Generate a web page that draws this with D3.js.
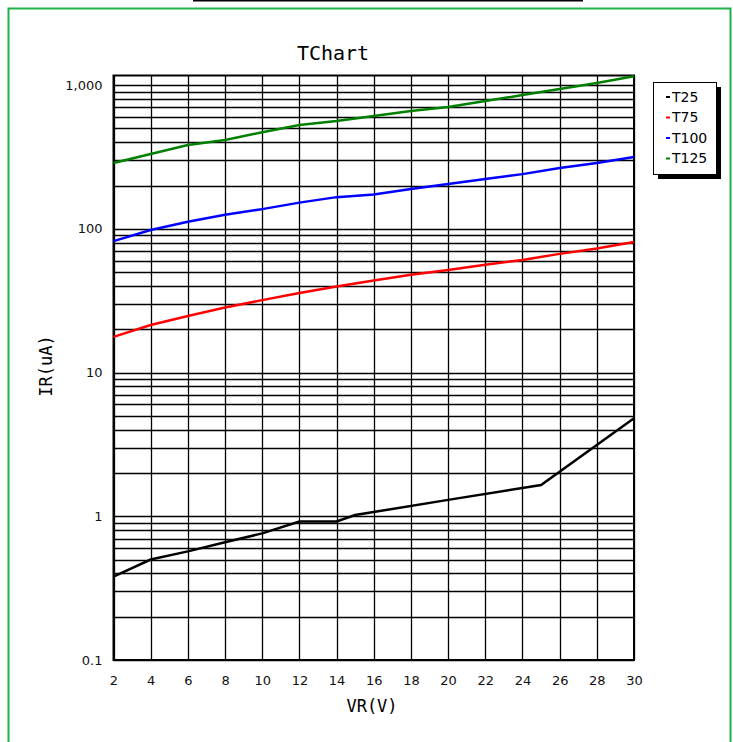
<!DOCTYPE html>
<html>
<head>
<meta charset="utf-8">
<script src="https://cdn.jsdelivr.net/npm/d3@7"></script>
<style>
  body { margin: 0; background: #fff; }
  svg { display: block; }
</style>
</head>
<body>
<div id="chart"></div>
<script>
  // chart data
  const vr = [2, 4, 6, 8, 10, 12, 14, 16, 18, 20, 22, 24, 26, 28, 30];
  const t25x = [2, 4, 6, 8, 10, 12, 14, 15, 20, 25, 30];
  const t25 = [0.38, 0.50, 0.57, 0.66, 0.76, 0.92, 0.92, 1.02, 1.3, 1.65, 4.8];
  const t75 = [17.7, 21.4, 24.7, 28.3, 31.9, 35.7, 39.7, 43.6, 47.8, 51.7, 56.1, 60.7, 66.9, 73, 80.9];
  const t100 = [82, 98, 112, 125, 137, 152, 166, 173, 189, 205, 222, 240, 265, 287, 316];
  const t125 = [287, 331, 383, 414, 470, 527, 562, 608, 659, 703, 774, 851, 937, 1032, 1150];
  const seriesNames = ["T25", "T75", "T100", "T125"];
  const seriesColors = ["#000000", "#ff0000", "#0000ff", "#008000"];
  const yTicks = [0.1, 1, 10, 100, 1000];
  const xTicks = d3.range(2, 31, 2);

  const series = [
    {name: seriesNames[0], xs: t25x, ys: t25},
    {name: seriesNames[1], xs: vr, ys: t75},
    {name: seriesNames[2], xs: vr, ys: t100},
    {name: seriesNames[3], xs: vr, ys: t125}
  ];

  const W = 733, H = 742;
  const plot = {left: 113.5, right: 634, top: 75.5, bottom: 660};

  const svg = d3.select("#chart")
    .append("svg")
    .attr("width", W)
    .attr("height", H);

  // outer decoration
  svg.append("rect")
    .attr("x", 8.5).attr("y", 8.5)
    .attr("width", 722).attr("height", 760)
    .attr("fill", "none")
    .attr("stroke", "#1fb24a")
    .attr("stroke-width", 2);
  svg.append("line")
    .attr("x1", 193).attr("x2", 583)
    .attr("y1", 0.5).attr("y2", 0.5)
    .attr("stroke", "#000").attr("stroke-width", 2);

  const x = d3.scaleLinear().domain([2, 30]).range([plot.left, plot.right]);
  const y = d3.scaleLog().domain([0.1, 1165]).range([plot.bottom, plot.top]);

  const g = svg.append("g");

  // horizontal grid, every 1..9 of each decade
  const hGrid = [];
  yTicks.forEach(d => { for (let k = 1; k <= 9; k++) { const v = d * k; if (v <= 1165) hGrid.push(v); } });
  g.selectAll(".hg").data(hGrid).join("line")
    .attr("x1", plot.left).attr("x2", plot.right)
    .attr("y1", d => Math.round(y(d)) + 0.5).attr("y2", d => Math.round(y(d)) + 0.5)
    .attr("stroke", "#000").attr("stroke-width", 1.3);

  g.selectAll(".vg").data(xTicks).join("line")
    .attr("x1", d => Math.round(x(d)) + 0.5).attr("x2", d => Math.round(x(d)) + 0.5)
    .attr("y1", plot.top).attr("y2", plot.bottom)
    .attr("stroke", "#000").attr("stroke-width", 1.3);

  g.append("rect")
    .attr("x", plot.left).attr("y", plot.top)
    .attr("width", plot.right - plot.left).attr("height", plot.bottom - plot.top)
    .attr("fill", "none").attr("stroke", "#000").attr("stroke-width", 2);

  // axes
  const fmt = d3.format(",");
  svg.append("g")
    .attr("transform", `translate(${plot.left - 11},0)`)
    .call(d3.axisLeft(y).tickValues(yTicks).tickSize(0).tickFormat(d => d < 1 ? "0.1" : fmt(d)))
    .call(a => a.select(".domain").remove())
    .call(a => a.selectAll("text").attr("x", 0).attr("font-family", "DejaVu Sans").attr("font-size", 13).attr("fill", "#111").attr("dy", "0.32em"));

  svg.append("g")
    .attr("transform", `translate(0,680)`)
    .call(d3.axisBottom(x).tickValues(xTicks).tickSize(0))
    .call(a => a.select(".domain").remove())
    .call(a => a.selectAll("text").attr("y", 0).attr("dy", "0.35em").attr("font-family", "DejaVu Sans").attr("font-size", 13).attr("fill", "#111"));

  // lines
  const line = d3.line().x(d => x(d[0])).y(d => y(d[1]));
  series.forEach((s, i) => {
    svg.append("path")
      .datum(s.xs.map((v, j) => [v, s.ys[j]]))
      .attr("d", line)
      .attr("fill", "none")
      .attr("stroke", seriesColors[i])
      .attr("stroke-width", 2.5);
  });

  // titles
  svg.append("text")
    .attr("x", 333).attr("y", 60)
    .attr("text-anchor", "middle")
    .attr("font-family", "DejaVu Sans Mono").attr("font-size", 20)
    .text("TChart");
  svg.append("text")
    .attr("x", 372).attr("y", 712)
    .attr("text-anchor", "middle")
    .attr("font-family", "DejaVu Sans Mono").attr("font-size", 17)
    .text("VR(V)");
  svg.append("text")
    .attr("transform", "translate(52,366) rotate(-90)")
    .attr("text-anchor", "middle")
    .attr("font-family", "DejaVu Sans Mono").attr("font-size", 17)
    .text("IR(uA)");

  // legend
  const lg = svg.append("g").attr("transform", "translate(653,82)");
  lg.append("rect").attr("x", 5).attr("y", 5).attr("width", 63).attr("height", 92).attr("fill", "#000");
  lg.append("rect").attr("x", 0.5).attr("y", 0.5).attr("width", 63).attr("height", 92)
    .attr("fill", "#fff").attr("stroke", "#000").attr("stroke-width", 1);
  seriesNames.forEach((n, i) => {
    const yy = 15 + i * 20.5;
    lg.append("line").attr("x1", 13).attr("x2", 17).attr("y1", yy).attr("y2", yy)
      .attr("stroke", seriesColors[i]).attr("stroke-width", 2);
    lg.append("text").attr("x", 19).attr("y", yy).attr("dy", "0.35em")
      .attr("font-family", "DejaVu Sans").attr("font-size", 14)
      .text(n);
  });
</script>
</body>
</html>
